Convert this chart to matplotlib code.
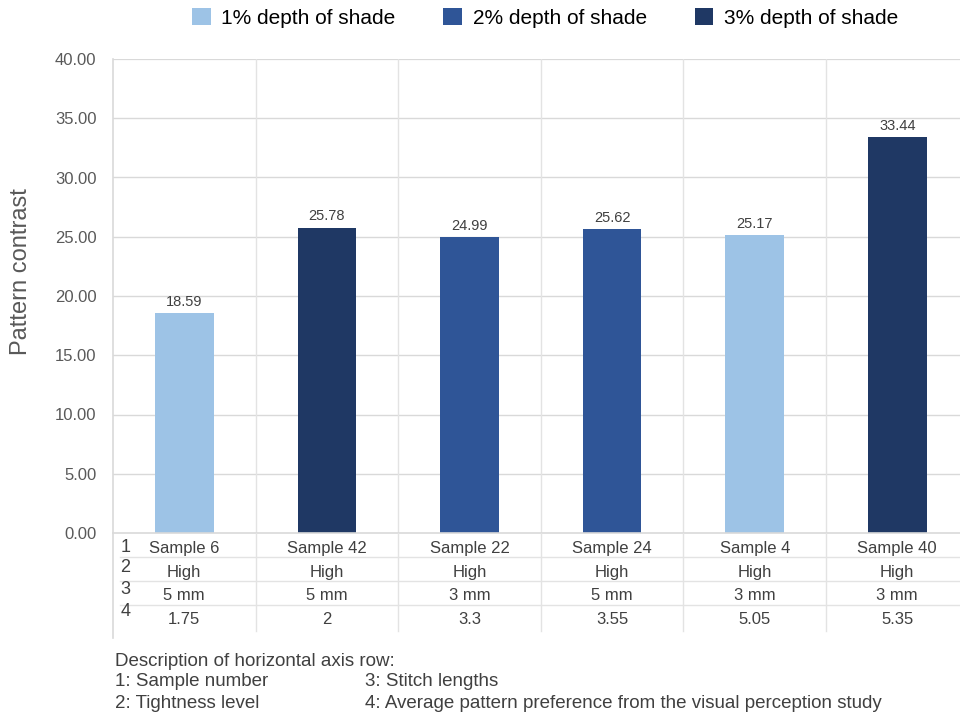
import matplotlib
matplotlib.use("Agg")
import matplotlib.pyplot as plt
from matplotlib.patches import Patch
from matplotlib.transforms import blended_transform_factory

samples = ["Sample 6", "Sample 42", "Sample 22", "Sample 24", "Sample 4", "Sample 40"]
tightness = ["High", "High", "High", "High", "High", "High"]
stitch = ["5 mm", "5 mm", "3 mm", "5 mm", "3 mm", "3 mm"]
preference = ["1.75", "2", "3.3", "3.55", "5.05", "5.35"]
contrast = [18.59, 25.78, 24.99, 25.62, 25.17, 33.44]
shade = [1, 3, 2, 2, 1, 3]

shade_labels = {1: "1% depth of shade", 2: "2% depth of shade", 3: "3% depth of shade"}
shade_colors = {1: "#9DC3E6", 2: "#2F5597", 3: "#1F3864"}

plt.rcParams["font.family"] = ["Liberation Sans", "DejaVu Sans"]

W, H = 960, 717
fig = plt.figure(figsize=(W / 100, H / 100), dpi=100)

left_px, top_px, bottom_px = 113, 59, 533
ncat = len(samples)
cat_w = 142.6
right_px = left_px + ncat * cat_w
ax = fig.add_axes([left_px / W, 1 - bottom_px / H, (right_px - left_px) / W, (bottom_px - top_px) / H])

xs = list(range(ncat))
colors = [shade_colors[s] for s in shade]
ax.bar(xs, contrast, width=0.41, color=colors, zorder=3)
for x, v in zip(xs, contrast):
    ax.annotate(f"{v:.2f}", (x, v), xytext=(0, 3), textcoords="offset points",
                ha="center", va="bottom", fontsize=10.5, color="#404040", zorder=4)

ax.set_xlim(-0.5, ncat - 0.5)
ax.set_ylim(0, 40)
ax.set_yticks(range(0, 45, 5))
ax.set_yticklabels([f"{t:.2f}" for t in range(0, 45, 5)], fontsize=12, color="#595959")
ax.tick_params(axis="y", length=0, pad=12)
ax.set_xticks([])
for y in range(5, 45, 5):
    ax.axhline(y, color="#D9D9D9", lw=1.0 if y < 40 else 1.6, zorder=1)
for b in range(1, ncat):
    ax.axvline(b - 0.5, color="#E3E3E3", lw=1.0, zorder=1)
for s in ax.spines.values():
    s.set_visible(False)

ft = fig.transFigure
bt = blended_transform_factory(ax.transData, ft)

def fy(px):
    return 1 - px / H

fig.text(21 / W, fy(272), "Pattern contrast", rotation=90, fontsize=17,
         color="#595959", ha="center", va="center")

# category table under the bars
line_kw = dict(color="#E3E3E3", lw=1.0, transform=ft, clip_on=False)
fig.add_artist(plt.Line2D([left_px / W, left_px / W], [fy(top_px), fy(638)], color="#D9D9D9", lw=1.2, transform=ft))
fig.add_artist(plt.Line2D([left_px / W, 1], [fy(bottom_px), fy(bottom_px)], color="#D9D9D9", lw=1.2, transform=ft))
for ypx in (557, 581, 605):
    fig.add_artist(plt.Line2D([120 / W, 1], [fy(ypx), fy(ypx)], **line_kw))
for b in range(1, ncat):
    xpx = left_px + b * cat_w
    fig.add_artist(plt.Line2D([xpx / W, xpx / W], [fy(bottom_px), fy(631)], **line_kw))

rows = [samples, tightness, stitch, preference]
row_y = [548, 572, 596, 620]
num_y = [548, 568, 590, 612]
for i, (vals, ypx, nypx) in enumerate(zip(rows, row_y, num_y)):
    fig.text(125.5 / W, fy(nypx), str(i + 1), fontsize=13, color="#404040", ha="center", va="center")
    for x, v in zip(xs, vals):
        ax.text(x, fy(ypx), v, transform=bt, fontsize=12, color="#404040",
                ha="center", va="center", clip_on=False)

# legend
handles = [Patch(facecolor=shade_colors[k], label=shade_labels[k]) for k in (1, 2, 3)]
fig.legend(handles=handles, loc="center", bbox_to_anchor=(545 / W, fy(18)), ncol=3,
           frameon=False, fontsize=15, handlelength=0.9, handleheight=0.9,
           handletextpad=0.5, columnspacing=2.3, labelcolor="#000000")

# row description
desc_kw = dict(fontsize=13.5, color="#404040", va="center")
fig.text(115 / W, fy(661), "Description of horizontal axis row:", **desc_kw)
fig.text(115 / W, fy(682), "1: Sample number", **desc_kw)
fig.text(115 / W, fy(704), "2: Tightness level", **desc_kw)
fig.text(365 / W, fy(682), "3: Stitch lengths", **desc_kw)
fig.text(365 / W, fy(704), "4: Average pattern preference from the visual perception study", **desc_kw)

fig.savefig("out.png", dpi=100, facecolor="white")
